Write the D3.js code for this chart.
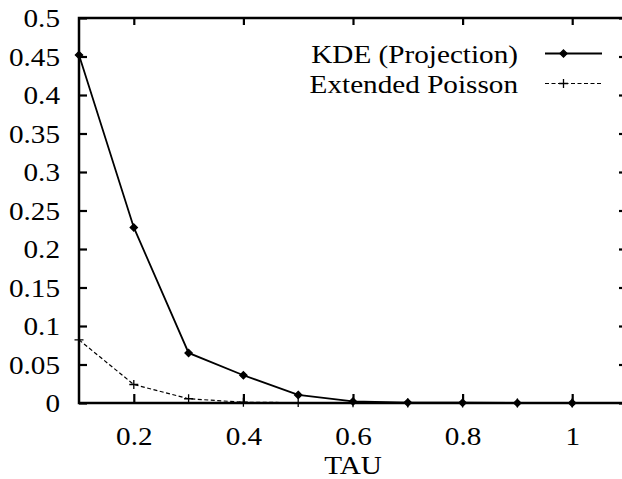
<!DOCTYPE html>
<html>
<head>
<meta charset="utf-8">
<script src="https://cdn.jsdelivr.net/npm/d3@7"></script>
<style>
  html, body { margin: 0; padding: 0; background: #fff; }
  svg { display: block; }
  svg text { font-family: "Liberation Serif", "Times New Roman", Times, serif; }
</style>
</head>
<body>
<svg id="chart" width="622" height="479"></svg>
<script>
// ---- data ----
const tau = [0.1, 0.2, 0.3, 0.4, 0.5, 0.6, 0.7, 0.8, 0.9, 1.0];
const kde = [0.452, 0.228, 0.065, 0.036, 0.0105, 0.002, 0.0005, 0.0003, 0.0, 0.0];
const poisson = [0.082, 0.024, 0.0055, 0.001, 0.0005, 0.0002, 0.0, 0.0, 0.0, 0.0];
const seriesNames = ["KDE (Projection)", "Extended Poisson"];
const xTicks = [0.2, 0.4, 0.6, 0.8, 1.0];
const yTicks = [0, 0.05, 0.1, 0.15, 0.2, 0.25, 0.3, 0.35, 0.4, 0.45, 0.5];
const xLabel = "TAU";

// ---- layout ----
const svg = d3.select("#chart");
const L = 79, T = 18, R = 627, B = 403;
const FS = 25.5, SX = 1.145;

const x = d3.scaleLinear().domain([0.1, 1.1]).range([L, R]);
const y = d3.scaleLinear().domain([0, 0.5]).range([B, T]);

svg.append("rect").attr("width", 622).attr("height", 479).attr("fill", "#fff");

function styleText(sel, tx, ty, anchor) {
  sel.attr("x", 0).attr("y", 0).attr("dy", null)
    .attr("transform", `translate(${tx},${ty}) scale(${SX},1)`)
    .attr("text-anchor", anchor)
    .attr("font-family", null)
    .style("font-size", FS + "px")
    .attr("fill", "#000");
}

// left axis (ticks inward)
const gL = svg.append("g").attr("transform", `translate(${L},0)`)
  .call(d3.axisLeft(y).tickValues(yTicks).tickSize(-8).tickFormat(d3.format("~g")));
gL.attr("font-family", null).attr("font-size", null);
gL.select(".domain").remove();
gL.selectAll(".tick line").attr("stroke", "#000").attr("stroke-width", 2.2);
gL.selectAll(".tick text").call(styleText, -19, 8.5, "end");

// right mirror ticks
const gR = svg.append("g").attr("transform", `translate(${R},0)`)
  .call(d3.axisRight(y).tickValues(yTicks).tickSize(-8).tickFormat(""));
gR.select(".domain").remove();
gR.selectAll(".tick line").attr("stroke", "#000").attr("stroke-width", 2.2);

// bottom axis
const gB = svg.append("g").attr("transform", `translate(0,${B})`)
  .call(d3.axisBottom(x).tickValues(xTicks).tickSize(-9).tickFormat(d3.format("~g")));
gB.attr("font-family", null).attr("font-size", null);
gB.select(".domain").remove();
gB.selectAll(".tick line").attr("stroke", "#000").attr("stroke-width", 2.2);
gB.selectAll(".tick text").call(styleText, 0, 42, "middle");

// top mirror ticks
const gT = svg.append("g").attr("transform", `translate(0,${T})`)
  .call(d3.axisTop(x).tickValues(xTicks).tickSize(-7).tickFormat(""));
gT.select(".domain").remove();
gT.selectAll(".tick line").attr("stroke", "#000").attr("stroke-width", 2.2);

// x label
svg.append("text").text(xLabel).call(styleText, (L + R) / 2, 473.5, "middle");

// series lines
const line = d3.line().x((d, i) => x(tau[i])).y(d => y(d));

svg.append("path").datum(poisson).attr("d", line)
  .attr("fill", "none").attr("stroke", "#000").attr("stroke-width", 1.2)
  .attr("stroke-dasharray", "4,2.5");

svg.append("path").datum(kde).attr("d", line)
  .attr("fill", "none").attr("stroke", "#000").attr("stroke-width", 1.8);

// markers
const plusPath = "M-4.5,0H4.5M0,-4.5V4.5";
svg.append("g").selectAll("path").data(poisson).join("path")
  .attr("transform", (d, i) => `translate(${x(tau[i])},${y(d)})`)
  .attr("d", plusPath).attr("stroke", "#000").attr("stroke-width", 1.3).attr("fill", "none");

const diamond = "M0,-3.6L3.6,0L0,3.6L-3.6,0Z";
svg.append("g").selectAll("path").data(kde).join("path")
  .attr("transform", (d, i) => `translate(${x(tau[i])},${y(d)})`)
  .attr("d", diamond).attr("stroke", "#000").attr("stroke-width", 1.3).attr("fill", "#000");

// border
svg.append("rect").attr("x", L).attr("y", T).attr("width", R - L).attr("height", B - T)
  .attr("fill", "none").attr("stroke", "#000").attr("stroke-width", 2.5);

// legend
const legY = [53.5, 83.5];
const leg = svg.append("g");
seriesNames.forEach((name, i) => {
  leg.append("text").text(name).call(styleText, 518, legY[i] + 9.5, "end");
  const ln = leg.append("line").attr("x1", 545).attr("x2", 602)
    .attr("y1", legY[i]).attr("y2", legY[i]).attr("stroke", "#000");
  if (i === 0) {
    ln.attr("stroke-width", 1.8);
    leg.append("path").attr("transform", `translate(563.5,${legY[i]})`).attr("d", diamond)
      .attr("stroke", "#000").attr("stroke-width", 1.3).attr("fill", "#000");
  } else {
    ln.attr("stroke-width", 1.2).attr("stroke-dasharray", "4,2.5");
    leg.append("path").attr("transform", `translate(563.5,${legY[i]})`).attr("d", plusPath)
      .attr("stroke", "#000").attr("stroke-width", 1.3);
  }
});
</script>
</body>
</html>
